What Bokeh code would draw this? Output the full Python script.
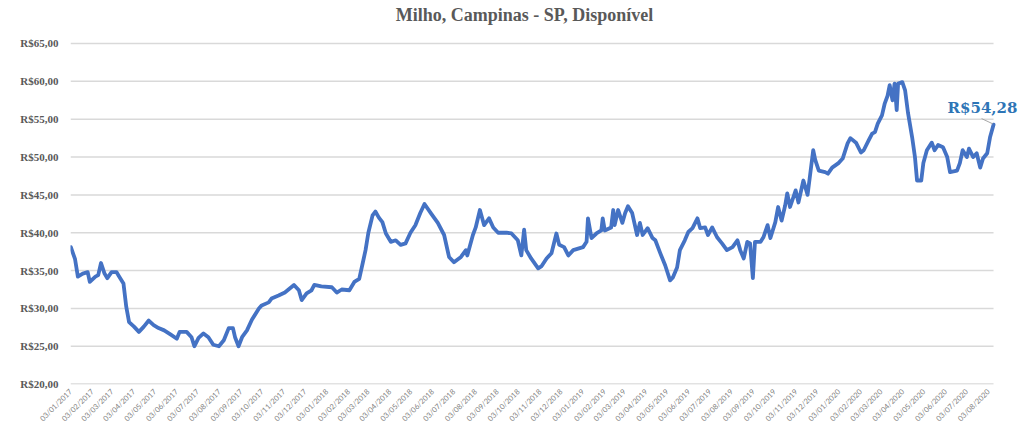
import datetime as dt
from bokeh.plotting import figure
from bokeh.models import Range1d, FixedTicker, Label, ColumnDataSource, DatetimeTickFormatter
from bokeh.embed import file_html
from bokeh.resources import INLINE

title_text = "Milho, Campinas - SP, Disponível"

dates = [
    "2017-01-03", "2017-01-09", "2017-01-13", "2017-01-20", "2017-01-27", "2017-01-30",
    "2017-02-07", "2017-02-11", "2017-02-15", "2017-02-20", "2017-02-24", "2017-03-02",
    "2017-03-09", "2017-03-13", "2017-03-19", "2017-03-23", "2017-03-27", "2017-04-03",
    "2017-04-10", "2017-04-17", "2017-04-24", "2017-05-01", "2017-05-08", "2017-05-16",
    "2017-05-26", "2017-06-03", "2017-06-07", "2017-06-17", "2017-06-24", "2017-06-28",
    "2017-07-04", "2017-07-11", "2017-07-18", "2017-07-25", "2017-08-02", "2017-08-09",
    "2017-08-16", "2017-08-22", "2017-08-25", "2017-08-30", "2017-09-04", "2017-09-11",
    "2017-09-18", "2017-09-28", "2017-10-02", "2017-10-12", "2017-10-16", "2017-10-26",
    "2017-11-04", "2017-11-17", "2017-11-24", "2017-11-28", "2017-12-05", "2017-12-12",
    "2017-12-16", "2017-12-26",
    "2018-01-10", "2018-01-17", "2018-01-24", "2018-02-04", "2018-02-11", "2018-02-18",
    "2018-02-23", "2018-02-27", "2018-03-03", "2018-03-09", "2018-03-13", "2018-03-18",
    "2018-03-23", "2018-03-28", "2018-04-04", "2018-04-11", "2018-04-18", "2018-04-25",
    "2018-05-02", "2018-05-09", "2018-05-16", "2018-05-22", "2018-05-31", "2018-06-10",
    "2018-06-19", "2018-06-26", "2018-07-03", "2018-07-13", "2018-07-20", "2018-07-22",
    "2018-07-30", "2018-08-03", "2018-08-09", "2018-08-15", "2018-08-22", "2018-08-28",
    "2018-09-04", "2018-09-16", "2018-09-23", "2018-10-02", "2018-10-07", "2018-10-11",
    "2018-10-14", "2018-10-21", "2018-10-31", "2018-11-05", "2018-11-12", "2018-11-19",
    "2018-11-26", "2018-11-30", "2018-12-07", "2018-12-13", "2018-12-20",
    "2019-01-03", "2019-01-08", "2019-01-10", "2019-01-15", "2019-01-22", "2019-01-29",
    "2019-01-31", "2019-02-03", "2019-02-12", "2019-02-15", "2019-02-17", "2019-02-22",
    "2019-02-28", "2019-03-04", "2019-03-08", "2019-03-14", "2019-03-21", "2019-03-25",
    "2019-03-29", "2019-04-05", "2019-04-12", "2019-04-16", "2019-04-23", "2019-04-30",
    "2019-05-07", "2019-05-11", "2019-05-17", "2019-05-21", "2019-05-28", "2019-06-02",
    "2019-06-08", "2019-06-15", "2019-06-19", "2019-06-26", "2019-06-30", "2019-07-06",
    "2019-07-13", "2019-07-20", "2019-07-27", "2019-08-04", "2019-08-11", "2019-08-15",
    "2019-08-20", "2019-08-25", "2019-08-29", "2019-09-02", "2019-09-05", "2019-09-13",
    "2019-09-17", "2019-09-23", "2019-09-27", "2019-10-04", "2019-10-08", "2019-10-13",
    "2019-10-18", "2019-10-21", "2019-10-25", "2019-11-02", "2019-11-06", "2019-11-13",
    "2019-11-19", "2019-11-27", "2019-11-30", "2019-12-05", "2019-12-14", "2019-12-18",
    "2019-12-24",
    "2020-01-02", "2020-01-08", "2020-01-15", "2020-01-19", "2020-01-27", "2020-02-03",
    "2020-02-07", "2020-02-14", "2020-02-19", "2020-02-23", "2020-02-27", "2020-03-04",
    "2020-03-08", "2020-03-12", "2020-03-15", "2020-03-19", "2020-03-22", "2020-03-25",
    "2020-03-27", "2020-04-02", "2020-04-06", "2020-04-10", "2020-04-16", "2020-04-20",
    "2020-04-23", "2020-04-29", "2020-05-02", "2020-05-07", "2020-05-14", "2020-05-18",
    "2020-05-23", "2020-05-30", "2020-06-05", "2020-06-09", "2020-06-19", "2020-06-23",
    "2020-06-27", "2020-07-03", "2020-07-06", "2020-07-12", "2020-07-17", "2020-07-22",
    "2020-07-26", "2020-08-01", "2020-08-05", "2020-08-10",
]

prices = [
    38.1, 36.5, 34.2, 34.6, 34.8, 33.5,
    34.2, 34.4, 36.0, 34.6, 34.0, 34.8,
    34.8, 34.2, 33.3, 30.2, 28.2, 27.6,
    26.9, 27.6, 28.4, 27.8, 27.4, 27.1,
    26.5, 26.0, 26.9, 26.9, 26.2, 25.0,
    26.1, 26.7, 26.2, 25.2, 25.0, 25.8,
    27.4, 27.4, 26.2, 25.0, 26.2, 27.1,
    28.5, 30.0, 30.4, 30.8, 31.3, 31.7,
    32.1, 33.1, 32.4, 31.1, 32.0, 32.4,
    33.1, 32.9,
    32.8, 32.1, 32.5, 32.4, 33.5, 33.9,
    36.0, 37.7, 40.0, 42.3, 42.8, 42.0,
    41.4, 39.9, 38.8, 39.0, 38.4, 38.6,
    40.0, 41.0, 42.6, 43.8, 42.6, 41.3,
    39.7, 36.8, 36.1, 36.8, 37.7, 37.0,
    39.7, 40.7, 43.0, 41.0, 41.9, 40.7,
    40.0, 40.0, 39.9, 39.0, 37.0, 40.4,
    37.7, 36.6, 35.3, 35.6, 36.6, 37.3,
    39.9, 38.4, 38.1, 37.0, 37.7,
    38.1, 38.8, 41.9, 39.3, 39.9, 40.3,
    41.9, 40.3, 40.7, 43.0, 41.0, 43.0,
    41.3, 42.6, 43.5, 42.6, 39.7, 41.3,
    39.7, 40.6, 39.3, 39.0, 37.3, 35.7,
    33.7, 34.1, 35.4, 37.7, 39.0, 40.1,
    40.6, 41.9, 40.6, 40.7, 39.7, 40.7,
    39.4, 38.6, 37.7, 38.1, 39.0, 37.7,
    36.6, 38.8, 38.6, 34.0, 38.8, 38.8,
    39.4, 41.0, 39.3, 41.4, 43.4, 41.6,
    43.6, 45.2, 43.4, 45.6, 44.0, 46.9,
    45.0, 50.9, 49.6, 48.2, 48.0, 47.8,
    48.6,
    49.2, 49.8, 51.8, 52.5, 51.9, 50.6,
    50.9, 52.2, 53.1, 53.3, 54.4, 55.5,
    57.1, 58.1, 59.5, 57.5, 59.7, 56.2,
    59.7, 59.9, 58.8, 55.9, 52.6, 50.0,
    46.9, 46.9, 49.2, 50.9, 51.9, 50.9,
    51.6, 51.3, 50.0, 48.0, 48.2, 49.2,
    50.9, 50.0, 51.1, 50.0, 50.5, 48.6,
    49.8, 50.5, 52.6, 54.28,
]

y_ticks = [20, 25, 30, 35, 40, 45, 50, 55, 60, 65]
y_tick_labels = ["R$20,00", "R$25,00", "R$30,00", "R$35,00", "R$40,00",
                 "R$45,00", "R$50,00", "R$55,00", "R$60,00", "R$65,00"]
last_label = "R$54,28"

# monthly ticks on the 3rd of each month, Jan 2017 .. Aug 2020
tick_dates = [dt.datetime(2017 + i // 12, i % 12 + 1, 3) for i in range(44)]
epoch = dt.datetime(1970, 1, 1)
tick_ms = [(d - epoch).total_seconds() * 1000.0 for d in tick_dates]

x_vals = [dt.datetime.strptime(d, "%Y-%m-%d") for d in dates]
src = ColumnDataSource(data=dict(x=x_vals, y=prices))

x_start = dt.datetime(2017, 1, 2, 12)
x_end = dt.datetime(2020, 9, 14, 14)   # room on the right for the value label
y_start = 19.95
y_end = 70.68                          # headroom above R$65 for the title

p = figure(
    width=1021, height=429,
    x_axis_type="datetime",
    x_range=Range1d(x_start, x_end),
    y_range=Range1d(y_start, y_end),
    output_backend="svg", toolbar_location=None,
    min_border_left=70, min_border_right=3, min_border_top=0, min_border_bottom=45,
)

p.outline_line_color = None
p.background_fill_color = "white"
p.border_fill_color = "white"

# horizontal gridlines spanning only the data period
p.xgrid.grid_line_color = None
p.ygrid.grid_line_color = None
p.segment(x0=[x_start] * len(y_ticks), y0=y_ticks,
          x1=[x_vals[-1]] * len(y_ticks), y1=y_ticks,
          line_color="#D9D9D9", line_width=1.5)

p.yaxis.ticker = FixedTicker(ticks=y_ticks)
p.yaxis.major_label_overrides = {t: l for t, l in zip(y_ticks, y_tick_labels)}
p.yaxis.axis_line_color = None
p.yaxis.major_tick_line_color = None
p.yaxis.minor_tick_line_color = None
p.yaxis.major_tick_out = 0
p.yaxis.major_tick_in = 0
p.yaxis.major_label_text_font = "Liberation Serif"
p.yaxis.major_label_text_font_style = "bold"
p.yaxis.major_label_text_font_size = "11px"
p.yaxis.major_label_text_color = "#595959"
p.yaxis.major_label_standoff = 12

p.xaxis.ticker = FixedTicker(ticks=tick_ms)
fmt = "%d/%m/%Y"
p.xaxis.formatter = DatetimeTickFormatter(
    milliseconds=fmt, seconds=fmt, minsec=fmt, minutes=fmt, hourmin=fmt,
    hours=fmt, days=fmt, months=fmt, years=fmt,
)
p.xaxis.axis_line_color = None
p.xaxis.major_tick_line_color = None
p.xaxis.minor_tick_line_color = None
p.xaxis.major_tick_out = 0
p.xaxis.major_tick_in = 0
p.xaxis.major_label_orientation = 0.785398
p.xaxis.major_label_text_font = "Lato"
p.xaxis.major_label_text_font_size = "7.5px"
p.xaxis.major_label_text_color = "#808080"
p.xaxis.major_label_standoff = 6

p.line("x", "y", source=src, line_color="#4472C4", line_width=3.8,
       line_join="round", line_cap="round")

# chart title, drawn inside the headroom of the frame
p.add_layout(Label(
    x=x_start + dt.timedelta(days=647), y=68.7, text=title_text,
    text_align="center", text_baseline="middle",
    text_font="Liberation Serif", text_font_style="bold", text_font_size="18px",
    text_color="#595959",
))

# leader line + label for last value
last_x = x_vals[-1]
p.segment(x0=[last_x - dt.timedelta(days=17)], y0=[prices[-1] + 0.8],
          x1=[last_x - dt.timedelta(days=1)], y1=[prices[-1] + 0.1],
          line_color="#A6A6A6", line_width=1)
p.add_layout(Label(
    x=last_x, y=prices[-1], text=last_label, x_offset=-11, y_offset=17,
    text_align="center", text_baseline="middle",
    text_font="DejaVu Serif", text_font_style="bold", text_font_size="15px",
    text_color="#2E75B6",
))

open("out.html", "w").write(file_html(p, INLINE))
